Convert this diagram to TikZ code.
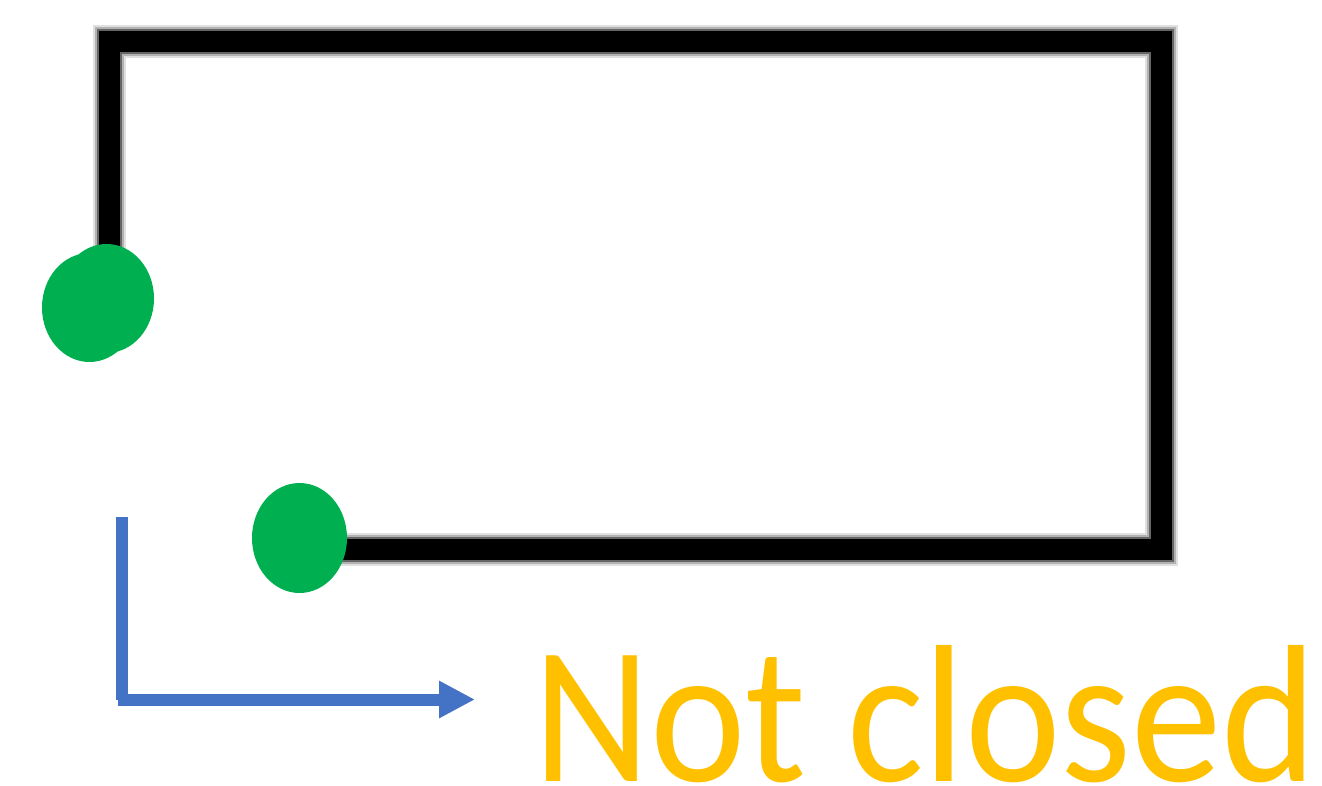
\documentclass[tikz,border=0pt]{standalone}
\usepackage{fontspec}
\setmainfont{Carlito}
\usetikzlibrary{arrows.meta}
\definecolor{dotgreen}{HTML}{00B050}
\definecolor{arrowblue}{HTML}{4472C4}
\definecolor{textorange}{HTML}{FFC000}
\tikzset{
  halo outer/.style={draw=black!12, line width=33pt, line join=miter},
  halo mid/.style={draw=black!30, line width=29pt, line join=miter},
  halo inner/.style={draw=black!60, line width=25pt, line join=miter},
  openline/.style={draw=black, line width=21pt, line join=miter},
  dot/.style={fill=dotgreen, draw=none},
  bluearrow/.style={draw=arrowblue, line width=12pt},
}
\begin{document}
\begin{tikzpicture}[x=1pt,y=-1pt]
\useasboundingbox (0,0) rectangle (1322,786);
% open rectangle path
\coordinate (s) at (109,292);
\coordinate (c1) at (109,42);
\coordinate (c2) at (1161,42);
\coordinate (c3) at (1161,549);
\coordinate (e) at (300,549);
\path[halo outer] (s) -- (c1) -- (c2) -- (c3) -- (e);
\path[halo mid] (s) -- (c1) -- (c2) -- (c3) -- (e);
\path[halo inner] (s) -- (c1) -- (c2) -- (c3) -- (e);
\path[openline] (s) -- (c1) -- (c2) -- (c3) -- (e);
% green end points
\fill[dot] (89.5,307.5) ellipse [x radius=47.5, y radius=54.5];
\fill[dot] (106.5,298.5) ellipse [x radius=47.5, y radius=54.5];
\fill[dot] (299.5,538) ellipse [x radius=47.5, y radius=55];
% blue L arrow
\coordinate (a0) at (121.5,517);
\coordinate (a1) at (121.5,700);
\coordinate (b0) at (118,699.5);
\coordinate (b1) at (475,699.5);
\draw[bluearrow] (a0) -- (a1);
\draw[bluearrow, -{Triangle[length=36pt,width=35pt]}] (b0) -- (b1);
% label
\node[anchor=base west, inner sep=0pt, text=textorange, font=\fontsize{196}{200}\selectfont] (lbl) at (533,781) {\scalebox{0.924}[1]{Not closed}};
\end{tikzpicture}
\end{document}
